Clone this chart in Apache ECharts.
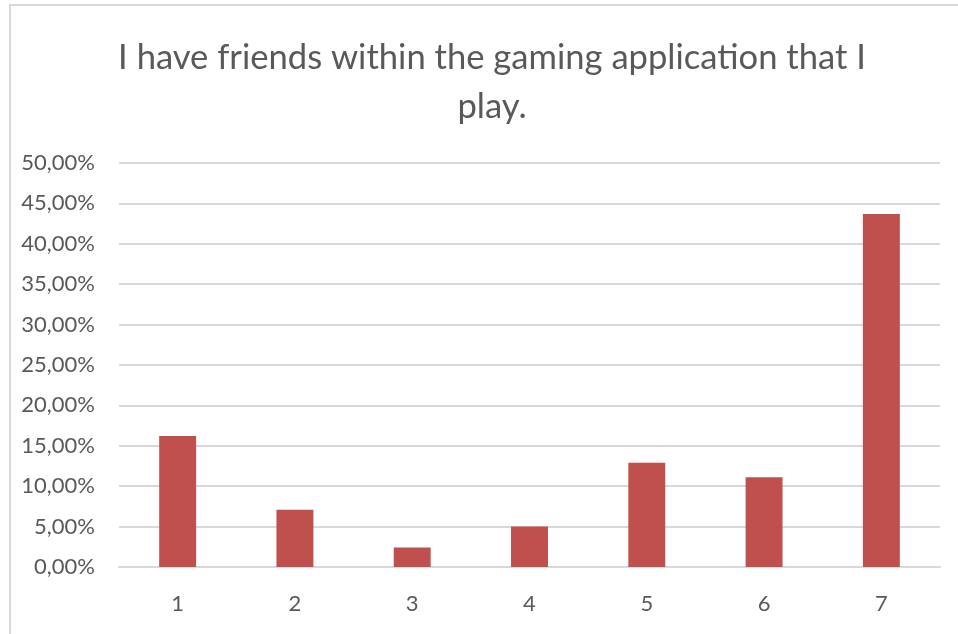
<!DOCTYPE html>
<html>
<head>
<meta charset="utf-8">
<script src="https://cdn.jsdelivr.net/npm/echarts@6/dist/echarts.min.js"></script>
<style>
  html, body { margin: 0; padding: 0; background: #ffffff; }
  #chart { width: 958px; height: 634px; }
</style>
</head>
<body>
<div id="chart"></div>
<script>
// Survey answers on a 1–7 agreement scale, share of respondents (%)
const categories = ['1', '2', '3', '4', '5', '6', '7'];
const shares = [16.2, 7.1, 2.4, 5.0, 12.9, 11.1, 43.7];
const yTicks = [0, 5, 10, 15, 20, 25, 30, 35, 40, 45, 50];

const titleText = 'I have friends within the gaming application that I\nplay.';
const textColor = '#595959';
const gridColor = '#d9d9d9';
const barColor = '#c0504d';

const chart = echarts.init(document.getElementById('chart'), null, { renderer: 'canvas' });

chart.setOption({
  backgroundColor: '#ffffff',
  animation: false,
  graphic: [{
    type: 'rect',
    shape: { x: 10, y: 5, width: 1000, height: 700 },
    style: { fill: 'none', stroke: gridColor, lineWidth: 2 },
    silent: true,
    z: -1
  }],
  title: {
    text: titleText,
    left: 487,
    textAlign: 'center',
    top: 28,
    textStyle: {
      fontFamily: 'Lato',
      fontWeight: 'normal',
      fontSize: 34.6,
      lineHeight: 49,
      color: textColor
    }
  },
  grid: { left: 119, right: 18, top: 163, bottom: 67 },
  xAxis: {
    type: 'category',
    data: categories,
    axisLine: { show: true, lineStyle: { color: gridColor, width: 2 } },
    axisTick: { show: false },
    axisLabel: {
      color: textColor,
      fontFamily: 'Lato',
      fontSize: 22,
      margin: 26
    }
  },
  yAxis: {
    type: 'value',
    min: yTicks[0],
    max: yTicks[yTicks.length - 1],
    interval: yTicks[1] - yTicks[0],
    axisLine: { show: false },
    axisTick: { show: false },
    splitLine: { lineStyle: { color: gridColor, width: 2 } },
    axisLabel: {
      color: textColor,
      fontFamily: 'Lato',
      fontSize: 22,
      margin: 24,
      formatter: v => v.toFixed(2).replace('.', ',') + '%'
    }
  },
  series: [{
    type: 'bar',
    data: shares,
    barWidth: '31.5%',
    itemStyle: { color: barColor },
    z: 3
  }]
});
</script>
</body>
</html>
